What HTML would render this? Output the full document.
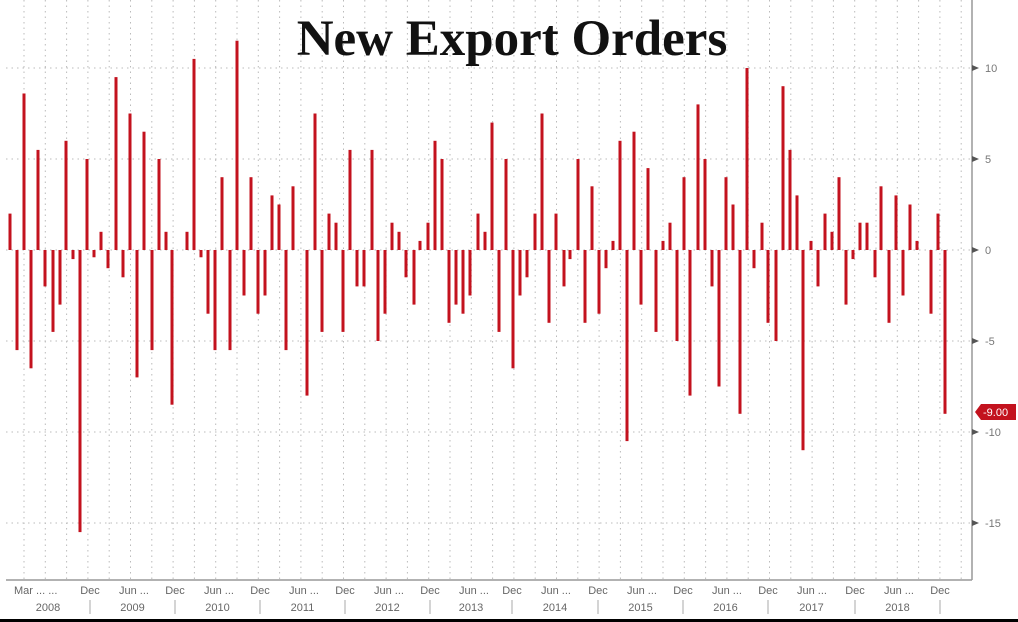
<!DOCTYPE html>
<html><head><meta charset="utf-8"><style>
html,body{margin:0;padding:0;background:#fff;width:1018px;height:622px;overflow:hidden}
svg{display:block}
</style></head><body>
<svg id="s" width="1018" height="622" xmlns="http://www.w3.org/2000/svg" font-family="Liberation Sans, sans-serif">
<rect width="1018" height="622" fill="#fff"/>
<g id="grid" stroke="#bbb" stroke-width="1" stroke-dasharray="1.5,4"></g>
<g id="bars" fill="#c3121e"></g>
<line x1="972" y1="0" x2="972" y2="580" stroke="#999" stroke-width="1.5"/>
<line x1="6" y1="580" x2="972" y2="580" stroke="#999" stroke-width="1.5"/>
<g font-size="11" fill="#777">
<text x="985" y="72">10</text><text x="985" y="163">5</text><text x="985" y="254">0</text>
<text x="985" y="345">-5</text><text x="985" y="436">-10</text><text x="985" y="527">-15</text>
</g>
<g fill="#555"><polygon points="972,65 979,68 972,71"/><polygon points="972,156 979,159 972,162"/><polygon points="972,247 979,250 972,253"/><polygon points="972,338 979,341 972,344"/><polygon points="972,429 979,432 972,435"/><polygon points="972,520 979,523 972,526"/></g>
<polygon points="975,412 981,404 1016,404 1016,420 981,420" fill="#c3121e"/>
<text x="983" y="416" font-size="11" fill="#fff">-9.00</text>
<g id="xl" font-size="11" fill="#666"></g>
<text x="512" y="55" text-anchor="middle" font-family="Liberation Serif, serif" font-weight="bold" font-size="51" fill="#111">New Export Orders</text>
<rect x="0" y="619" width="1018" height="3" fill="#000"/>
</svg>
<script>
var ns="http://www.w3.org/2000/svg";
function el(p,t,a,txt){var e=document.createElementNS(ns,t);for(var k in a)e.setAttribute(k,a[k]);if(txt)e.textContent=txt;document.getElementById(p).appendChild(e);}
for(var y=68;y<=523;y+=91)el("grid","line",{x1:6,y1:y,x2:972,y2:y});
for(var x=24;x<972;x+=21.3)el("grid","line",{x1:x,y1:0,x2:x,y2:580});
var d=[[10,2],[17,-5.5],[24,8.6],[31,-6.5],[38,5.5],[45,-2],[53,-4.5],[60,-3],[66,6],[73,-0.5],[80,-15.5],[87,5],[94,-0.4],[101,1],[108,-1],[116,9.5],[123,-1.5],[130,7.5],[137,-7],[144,6.5],[152,-5.5],[159,5],[166,1],[172,-8.5],[187,1],[194,10.5],[201,-0.4],[208,-3.5],[215,-5.5],[222,4],[230,-5.5],[237,11.5],[244,-2.5],[251,4],[258,-3.5],[265,-2.5],[272,3],[279,2.5],[286,-5.5],[293,3.5],[307,-8],[315,7.5],[322,-4.5],[329,2],[336,1.5],[343,-4.5],[350,5.5],[357,-2],[364,-2],[372,5.5],[378,-5],[385,-3.5],[392,1.5],[399,1],[406,-1.5],[414,-3],[420,0.5],[428,1.5],[435,6],[442,5],[449,-4],[456,-3],[463,-3.5],[470,-2.5],[478,2],[485,1],[492,7],[499,-4.5],[506,5],[513,-6.5],[520,-2.5],[527,-1.5],[535,2],[542,7.5],[549,-4],[556,2],[564,-2],[570,-0.5],[578,5],[585,-4],[592,3.5],[599,-3.5],[606,-1],[613,0.5],[620,6],[627,-10.5],[634,6.5],[641,-3],[648,4.5],[656,-4.5],[663,0.5],[670,1.5],[677,-5],[684,4],[690,-8],[698,8],[705,5],[712,-2],[719,-7.5],[726,4],[733,2.5],[740,-9],[747,10],[754,-1],[762,1.5],[768,-4],[776,-5],[783,9],[790,5.5],[797,3],[803,-11],[811,0.5],[818,-2],[825,2],[832,1],[839,4],[846,-3],[853,-0.5],[860,1.5],[867,1.5],[875,-1.5],[881,3.5],[889,-4],[896,3],[903,-2.5],[910,2.5],[917,0.5],[931,-3.5],[938,2],[945,-9]];
d.forEach(function(b){var h=Math.abs(b[1])*18.2;el("bars","rect",{x:b[0]-1.5,y:b[1]>0?250-h:250,width:3,height:h});});
el("xl","text",{x:14,y:594},"Mar ... ...");
var ys=[2008,2009,2010,2011,2012,2013,2014,2015,2016,2017,2018],sep=[90,175,260,345,430,512,598,683,768,855,940];
for(var i=0;i<11;i++){var c=i==0?48:(sep[i-1]+sep[i])/2;el("xl","text",{x:c,y:611,"text-anchor":"middle"},""+ys[i]);
el("xl","line",{x1:sep[i],y1:600,x2:sep[i],y2:614,stroke:"#aaa"});
if(i>0)el("xl","text",{x:sep[i-1]+44,y:594,"text-anchor":"middle"},"Jun ...");
el("xl","text",{x:sep[i],y:594,"text-anchor":"middle"},"Dec");}
</script>
</body></html>
